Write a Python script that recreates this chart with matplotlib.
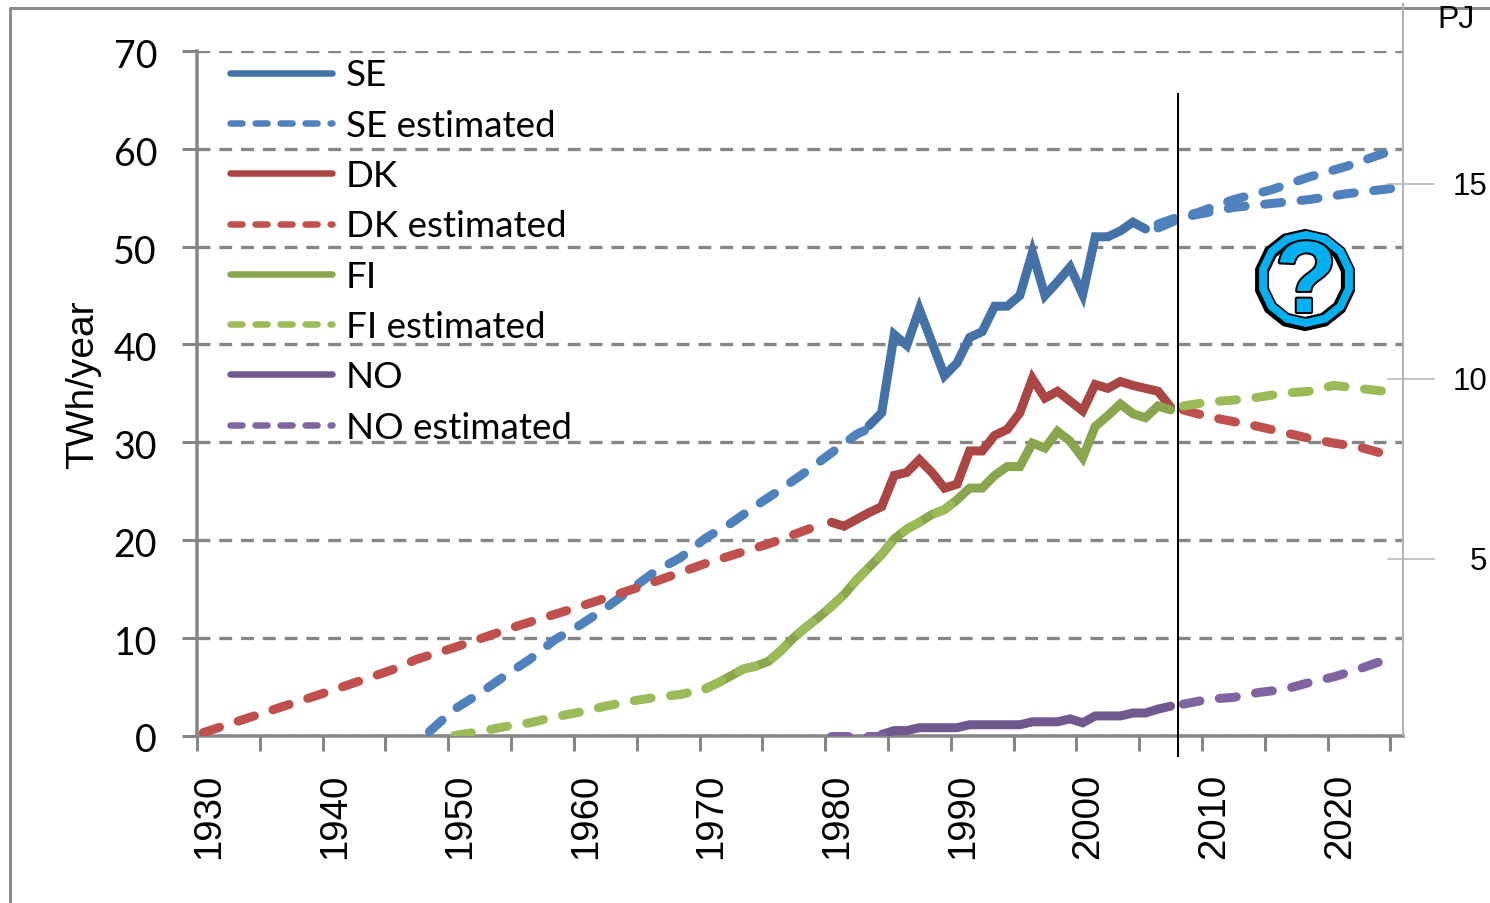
#!/usr/bin/env python3
"""Nordic yearly output per country, measured and estimated, 1930-2025."""
import matplotlib

matplotlib.use("Agg")
import matplotlib.patheffects as pe  # noqa: E402
import matplotlib.pyplot as plt  # noqa: E402
import matplotlib.transforms as mtrans  # noqa: E402
from matplotlib.lines import Line2D  # noqa: E402
from matplotlib.patches import RegularPolygon  # noqa: E402

W, H = 1490, 904
PT = 0.72  # one pixel in points at dpi 100

se_years = list(range(1983, 2006))
se_vals = [31.7, 33.0, 41.0, 39.9, 43.6, 40.2, 36.8, 38.1, 40.7, 41.3, 43.9, 43.9,
           45.0, 49.4, 45.0, 46.4, 47.9, 45.1, 51.0, 51.0, 51.6, 52.5, 51.8]
se_est_years = [1948, 1950, 1952, 1954, 1956, 1958, 1960, 1962, 1964, 1966, 1968, 1970,
                1972, 1974, 1976, 1978, 1980, 1982, 1983]
se_est_vals = [0.4, 2.7, 4.3, 6.1, 7.8, 9.8, 11.3, 13.0, 14.9, 16.8, 18.2, 20.2,
               21.7, 23.5, 25.2, 27.0, 28.9, 30.8, 31.4]
se_hi_years = [2006, 2008, 2009, 2012, 2015, 2018, 2021, 2025]
se_hi_vals = [52.3, 53.2, 53.4, 54.8, 55.8, 57.1, 58.2, 60.0]
se_lo_years = [2006, 2008, 2012, 2015, 2018, 2021, 2025]
se_lo_vals = [51.9, 53.0, 54.0, 54.4, 54.8, 55.4, 56.0]

dk_years = list(range(1980, 2008))
dk_vals = [21.8, 21.4, 22.1, 22.8, 23.4, 26.6, 26.9, 28.2, 26.9, 25.3, 25.7, 29.1, 29.1, 30.7,
           31.3, 33.0, 36.5, 34.5, 35.2, 34.2, 33.2, 35.9, 35.5, 36.2, 35.8, 35.5, 35.2, 33.6]
dk_est_years = [1930, 1935, 1940, 1945, 1947, 1950, 1955, 1960, 1965, 1970, 1975, 1979]
dk_est_vals = [0.3, 2.4, 4.5, 6.7, 7.8, 9.0, 11.2, 13.2, 15.3, 17.6, 19.6, 21.5]
dk_post_years = [2008, 2010, 2012, 2014, 2016, 2018, 2020, 2022, 2024, 2025]
dk_post_vals = [33.3, 32.6, 32.1, 31.6, 31.0, 30.4, 29.9, 29.5, 28.8, 28.5]

fi_years = list(range(1970, 2008))
fi_vals = [4.8, 5.4, 6.1, 6.8, 7.1, 7.6, 8.7, 10.0, 11.1, 12.1, 13.2, 14.4, 15.9, 17.2, 18.5,
           20.1, 21.1, 21.8, 22.6, 23.1, 24.1, 25.3, 25.3, 26.6, 27.5, 27.5, 29.9, 29.4, 31.1,
           30.1, 28.4, 31.6, 32.7, 33.9, 32.9, 32.5, 33.7, 33.3]
fi_est_years = [1950, 1952, 1954, 1956, 1958, 1960, 1962, 1964, 1966, 1968] + fi_years[:21]
fi_est_vals = [0.0, 0.4, 0.9, 1.3, 1.9, 2.4, 3.0, 3.5, 3.9, 4.2] + fi_vals[:21]
fi_post_years = [2008, 2010, 2012, 2014, 2016, 2018, 2020, 2022, 2024, 2025]
fi_post_vals = [33.7, 34.1, 34.3, 34.6, 35.0, 35.2, 35.8, 35.5, 35.2, 35.0]

no_years = list(range(1984, 2008))
no_vals = [0.1, 0.5, 0.5, 0.8, 0.8, 0.8, 0.8, 1.1, 1.1, 1.1, 1.1, 1.1, 1.4, 1.4, 1.4, 1.7,
           1.3, 2.0, 2.0, 2.0, 2.3, 2.3, 2.7, 3.0]
no_est_years = [1980, 1984]
no_est_vals = [0.0, 0.0]
no_post_years = [2008, 2010, 2012, 2014, 2016, 2018, 2020, 2022, 2024, 2025]
no_post_vals = [3.2, 3.7, 3.9, 4.4, 4.7, 5.4, 6.0, 6.8, 7.7, 8.0]

right_labels = ["15", "10", "5"]

SE, SE_E = "#4472a8", "#4f81bd"
DK, DK_E = "#aa4643", "#c0504d"
FI, FI_E = "#89a54e", "#9bbb59"
NO, NO_E = "#71588f", "#8064a2"
GRID = "#868686"
LIGHT = "#b3b3b3"

plt.rcParams["font.family"] = ["Liberation Sans", "DejaVu Sans"]
fig = plt.figure(figsize=(W / 100, H / 100), dpi=100)
ax = fig.add_axes([197 / W, 1 - 736.5 / H, 1206 / W, 684.5 / H])
ax.set_xlim(1930, 2026)
ax.set_ylim(0, 70)
px = mtrans.Affine2D().scale(1 / W, -1 / H).translate(0, 1) + fig.transFigure


def solid(years, vals, color):
    ax.plot([y + 0.5 for y in years], vals, color=color, lw=9 * PT, solid_capstyle="round",
            solid_joinstyle="miter", zorder=3)


def dashed(years, vals, color):
    ax.plot([y + 0.5 for y in years], vals, color=color, lw=9 * PT, ls=(0, (1.9, 2.17)),
            dash_capstyle="round", zorder=4)


for y, v, c in [(se_years, se_vals, SE), (dk_years, dk_vals, DK), (fi_years, fi_vals, FI), (no_years, no_vals, NO)]:
    solid(y, v, c)
for y, v, c in [(se_est_years, se_est_vals, SE_E), (se_hi_years, se_hi_vals, SE_E), (se_lo_years, se_lo_vals, SE_E),
                (dk_est_years, dk_est_vals, DK_E), (dk_post_years, dk_post_vals, DK_E),
                (fi_est_years, fi_est_vals, FI_E), (fi_post_years, fi_post_vals, FI_E),
                (no_est_years, no_est_vals, NO_E), (no_post_years, no_post_vals, NO_E)]:
    dashed(y, v, c)

ax.plot([2008.1, 2008.1], [-2.05, 65.6], color="black", lw=2 * PT, clip_on=False, zorder=5)

# axes
for side in ["top", "right"]:
    ax.spines[side].set_visible(False)
for side in ["left", "bottom"]:
    ax.spines[side].set_color(GRID)
    ax.spines[side].set_linewidth(3.5 * PT)
ax.yaxis.grid(True, color=GRID, lw=3.3 * PT, ls=(0, (3.9, 2.7)))
ax.set_axisbelow(True)
ax.set_yticks(range(0, 80, 10))
ax.set_xticks(range(1930, 2026, 5))
ax.set_xticklabels([str(y) if y % 10 == 0 else "" for y in range(1930, 2026, 5)],
                   rotation=90, fontsize=27.6, va="top", ha="center")
ax.tick_params(axis="x", length=15 * PT, width=3 * PT, color=GRID, pad=16)
ax.tick_params(axis="y", length=15 * PT, width=3 * PT, color=GRID, pad=18)
yshift = mtrans.ScaledTranslation(0, -1.5 * PT / 72, fig.dpi_scale_trans)
for lab in ax.get_yticklabels():
    lab.set_family(["Lato", "DejaVu Sans"])
    lab.set_fontsize(27)
    lab.set_transform(lab.get_transform() + yshift)
shift = mtrans.ScaledTranslation(12 * PT / 72, 0, fig.dpi_scale_trans)
for lab in ax.get_xticklabels():
    lab.set_transform(lab.get_transform() + shift)
fig.text(83 / W, 1 - 385 / H, "TWh/year", rotation=90, fontsize=28, ha="center", va="center")

# legend
names = ["SE", "SE estimated", "DK", "DK estimated", "FI", "FI estimated", "NO", "NO estimated"]
colors = [SE, SE_E, DK, DK_E, FI, FI_E, NO, NO_E]
handles = []
for i, c in enumerate(colors):
    ls = "-" if i % 2 == 0 else (0, (1.85, 2.0))
    handles.append(Line2D([], [], color=c, lw=6.5 * PT, ls=ls, dash_capstyle="round", solid_capstyle="round"))
leg = ax.legend(handles, names, loc="upper left", bbox_to_anchor=(230 / W, 1 - 59.5 / H),
                bbox_transform=fig.transFigure, frameon=False, fontsize=26.5, handlelength=2.77,
                handletextpad=0.37, labelspacing=0.47, borderpad=0, borderaxespad=0)
for t in leg.get_texts():
    t.set_family(["Lato", "DejaVu Sans"])

# outer frame and the right hand scale
fig.add_artist(Line2D([10, 10, W], [H, 9, 9], transform=px, color="#8c8c8c", lw=3 * PT))
fig.add_artist(Line2D([1403, 1403], [5, 736], transform=px, color=LIGHT, lw=2 * PT))
for lab, yp in zip(right_labels, [185, 380, 560]):
    fig.add_artist(Line2D([1388, 1434], [yp, yp], transform=px, color=LIGHT, lw=1.5 * PT))
    fig.text(1487 / W, 1 - (yp + 2) / H, lab, fontsize=22.5, ha="right", va="center")
fig.text(1456 / W, 1 - 20 / H, "PJ", fontsize=23, ha="center", va="center")

# question mark badge
fig.add_artist(RegularPolygon((1305, 281), 14, radius=44, transform=px, fill=False, ec="black", lw=14 * PT))
fig.add_artist(RegularPolygon((1306, 280), 14, radius=44, transform=px, fill=False, ec="#00b0f0", lw=8 * PT))
qm = fig.text(1306 / W, 1 - 287 / H, "?", fontsize=73, weight="bold", color="#00b0f0", ha="center", va="center")
qm.set_path_effects([pe.withStroke(linewidth=4 * PT, foreground="black")])

fig.savefig("out.png", dpi=100)
